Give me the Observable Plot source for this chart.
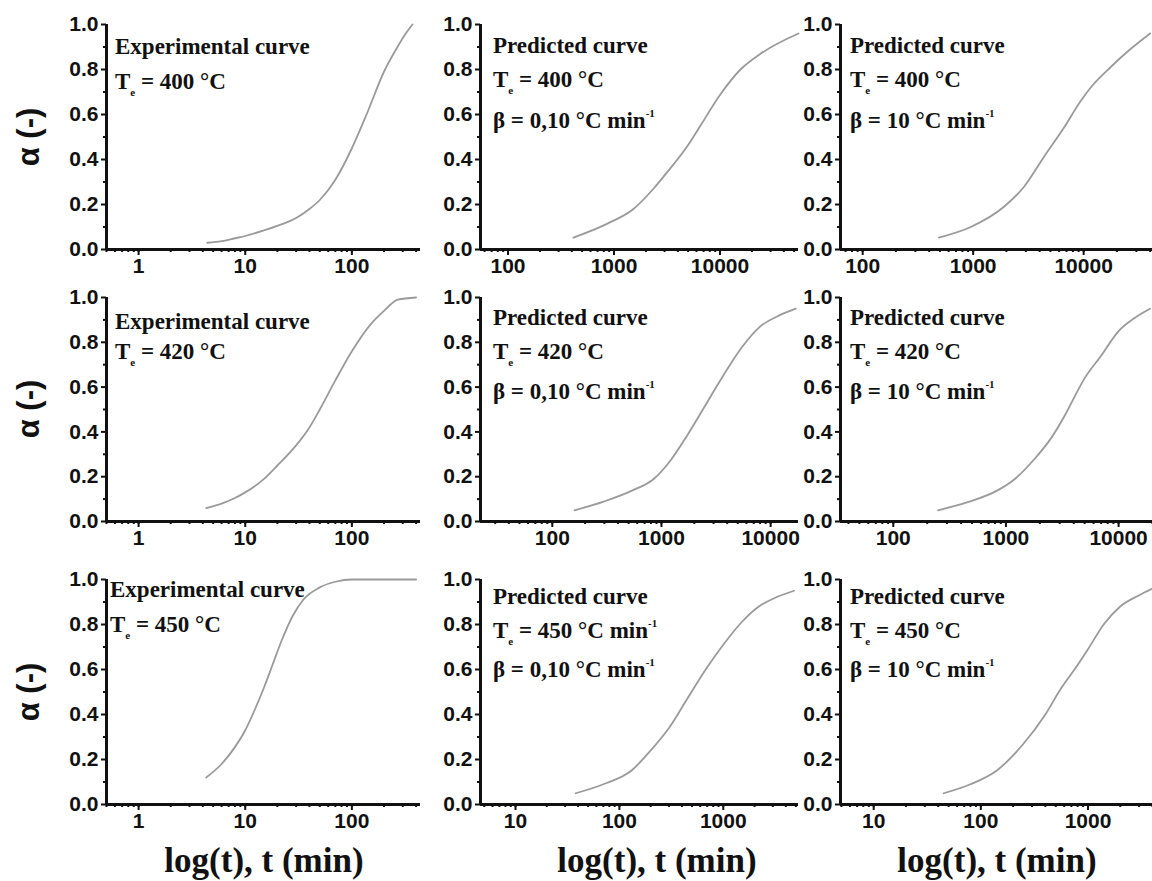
<!DOCTYPE html>
<html>
<head>
<meta charset="utf-8">
<script src="https://cdn.jsdelivr.net/npm/d3@7"></script>
<script src="https://cdn.jsdelivr.net/npm/@observablehq/plot@0.6"></script>
<style>
  body { margin: 0; background: #fff; }
  #chart { position: relative; width: 1152px; height: 881px; overflow: hidden; background: #fff; }
  .panel { position: absolute; }
  .panel svg { overflow: visible; }
  .ann { position: absolute; font-family: "Liberation Serif", "Times New Roman", serif; font-weight: bold;
         font-size: 23px; line-height: 1; color: #111; white-space: nowrap; }
  .ann sub { font-size: 11px; vertical-align: -7px; line-height: 0; }
  .ann sup { font-size: 11px; vertical-align: 11px; line-height: 0; }
  .xt { position: absolute; font-family: "Liberation Serif", "Times New Roman", serif; font-weight: bold;
        font-size: 35px; line-height: 1; color: #111; white-space: nowrap; transform: translateX(-50%); }
  .yt { position: absolute; font-family: "Liberation Sans", Arial, sans-serif; font-weight: bold;
        font-size: 31px; line-height: 1; color: #111; white-space: nowrap;
        transform: translate(-50%, -50%) rotate(-90deg); }
</style>
</head>
<body>
<div id="chart"></div>
<script>
// ---------- data ----------
const yTicks = [0, 0.2, 0.4, 0.6, 0.8, 1.0];

// row 1 : T = 400 °C
const exp400_t = [4.4, 6, 8, 10, 15, 20, 30, 40, 50, 70, 100, 140, 200, 260, 320, 370];
const exp400_a = [0.03, 0.037, 0.05, 0.06, 0.085, 0.105, 0.14, 0.18, 0.22, 0.31, 0.45, 0.61, 0.79, 0.89, 0.96, 1.0];
const pre400s_t = [414, 867, 1525, 2355, 3190, 4930, 6530, 10100, 15600, 24100, 55000];
const pre400s_a = [0.053, 0.115, 0.18, 0.27, 0.345, 0.46, 0.55, 0.69, 0.80, 0.87, 0.96];
const pre400f_t = [490, 950, 1900, 2900, 4350, 6600, 9400, 11600, 17500, 25000, 40000];
const pre400f_a = [0.053, 0.10, 0.19, 0.28, 0.41, 0.54, 0.66, 0.72, 0.81, 0.88, 0.96];

// row 2 : T = 420 °C
const exp420_t = [4.3, 6, 8, 10, 15, 20, 30, 40, 50, 70, 100, 150, 200, 270, 400];
const exp420_a = [0.06, 0.08, 0.105, 0.13, 0.19, 0.25, 0.34, 0.42, 0.5, 0.63, 0.76, 0.88, 0.94, 0.99, 1.0];
const pre420s_t = [160, 300, 550, 850, 1200, 1600, 2200, 3000, 4000, 5500, 8000, 12000, 17000];
const pre420s_a = [0.05, 0.09, 0.14, 0.19, 0.27, 0.36, 0.47, 0.58, 0.68, 0.78, 0.87, 0.92, 0.95];
const pre420f_t = [250, 450, 850, 1200, 1800, 2500, 3300, 4000, 5000, 7000, 10000, 14000, 19000];
const pre420f_a = [0.05, 0.085, 0.14, 0.19, 0.28, 0.37, 0.47, 0.55, 0.64, 0.74, 0.85, 0.91, 0.95];

// row 3 : T = 450 °C
const exp450_t = [4.3, 6, 8, 10, 12, 15, 18, 22, 28, 35, 50, 70, 100, 400];
const exp450_a = [0.12, 0.18, 0.255, 0.33, 0.41, 0.52, 0.62, 0.73, 0.84, 0.91, 0.965, 0.99, 1.0, 1.0];
const pre450s_t = [38, 70, 130, 200, 300, 450, 700, 1000, 1500, 2200, 3200, 4800];
const pre450s_a = [0.05, 0.09, 0.15, 0.24, 0.34, 0.47, 0.61, 0.71, 0.81, 0.88, 0.92, 0.95];
const pre450f_t = [45, 80, 140, 250, 400, 550, 800, 1000, 1400, 2000, 3000, 4000];
const pre450f_a = [0.05, 0.09, 0.15, 0.27, 0.4, 0.51, 0.62, 0.69, 0.8, 0.88, 0.93, 0.96];

// x tick labels
const ticksA = [1, 10, 100];
const ticksB = [100, 1000, 10000];
const ticksC = [10, 100, 1000];

// annotation texts
const txtExp = "Experimental curve";
const txtPred = "Predicted curve";
const temps = ["400", "420", "450"];
const betaSlow = "0,10";
const betaFast = "10";

const yTitle = "α (-)";
const xTitle = "log(t), t (min)";

// ---------- layout ----------
const cols = [
  { svgLeft: 40,  frameLeft: 106, frameRight: 420,  mr: 5, annDx: 9,  titleCx: 264 },
  { svgLeft: 425, frameLeft: 480, frameRight: 798,  mr: 2, annDx: 13, titleCx: 657 },
  { svgLeft: 800, frameLeft: 840, frameRight: 1152, mr: 0, annDx: 10, titleCx: 997 }
];
const rows = [
  { svgTop: 0,   frameTop: 24,  frameBottom: 249, svgBottom: 275, exp: [23, 58], pred: [22, 56, 97] },
  { svgTop: 275, frameTop: 297, frameBottom: 521, svgBottom: 555, exp: [25, 55], pred: [21, 55, 95] },
  { svgTop: 555, frameTop: 579, frameBottom: 804, svgBottom: 835, exp: [11, 46], pred: [18, 52, 91] }
];

const panels = [
  { r: 0, c: 0, t: exp400_t,  a: exp400_a,  domain: [0.5, 440],   ticks: ticksA, kind: "exp",  temp: temps[0] },
  { r: 0, c: 1, t: pre400s_t, a: pre400s_a, domain: [55, 55000],  ticks: ticksB, kind: "pred", temp: temps[0], beta: betaSlow },
  { r: 0, c: 2, t: pre400f_t, a: pre400f_a, domain: [63, 42000],  ticks: ticksB, kind: "pred", temp: temps[0], beta: betaFast },
  { r: 1, c: 0, t: exp420_t,  a: exp420_a,  domain: [0.5, 440],   ticks: ticksA, kind: "exp",  temp: temps[1] },
  { r: 1, c: 1, t: pre420s_t, a: pre420s_a, domain: [22, 18000],  ticks: ticksB, kind: "pred", temp: temps[1], beta: betaSlow },
  { r: 1, c: 2, t: pre420f_t, a: pre420f_a, domain: [34, 20000],  ticks: ticksB, kind: "pred", temp: temps[1], beta: betaFast },
  { r: 2, c: 0, t: exp450_t,  a: exp450_a,  domain: [0.5, 440],   ticks: ticksA, kind: "exp",  temp: temps[2] },
  { r: 2, c: 1, t: pre450s_t, a: pre450s_a, domain: [4.6, 5300],  ticks: ticksC, kind: "pred", temp: temps[2], beta: betaSlow, typo: true },
  { r: 2, c: 2, t: pre450f_t, a: pre450f_a, domain: [4.9, 4000],  ticks: ticksC, kind: "pred", temp: temps[2], beta: betaFast }
];

const chart = document.getElementById("chart");

function minorTicks([x0, x1]) {
  const out = [];
  for (let e = -2; e <= 6; e++) for (let k = 1; k <= 9; k++) {
    const v = k * Math.pow(10, e);
    if (v >= x0 && v <= x1) out.push(v);
  }
  return out;
}

for (const p of panels) {
  const col = cols[p.c], row = rows[p.r];
  const width = col.frameRight - col.svgLeft + col.mr;
  const height = row.svgBottom - row.svgTop;
  const data = p.t.map((t, i) => ({ t, a: p.a[i] }));
  const [x0] = p.domain;
  const plot = Plot.plot({
    width, height,
    marginLeft: col.frameLeft - col.svgLeft,
    marginRight: col.mr,
    marginTop: row.frameTop - row.svgTop,
    marginBottom: row.svgBottom - row.frameBottom,
    x: { type: "log", domain: p.domain },
    y: { domain: [0, 1] },
    style: { fontFamily: "'Liberation Sans', Arial, sans-serif", fontWeight: "bold", fontSize: "21px",
             color: "#111", background: "transparent", overflow: "visible" },
    marks: [
      Plot.axisY({ ticks: yTicks, tickFormat: d3.format(".1f"), tickSize: 5, tickPadding: 3, label: null, strokeWidth: 2 }),
      Plot.axisY({ ticks: d3.range(0.1, 1, 0.2), tickSize: 3, text: null, label: null, strokeWidth: 2 }),
      Plot.axisX({ ticks: p.ticks, tickFormat: d => String(d), tickSize: 6, tickPadding: 3, label: null, strokeWidth: 2 }),
      Plot.axisX({ ticks: minorTicks(p.domain), tickSize: 3, text: null, label: null, strokeWidth: 2 }),
      Plot.ruleX([x0], { stroke: "#111", strokeWidth: 3 }),
      Plot.ruleY([0], { stroke: "#111", strokeWidth: 3 }),
      Plot.line(data, { x: "t", y: "a", stroke: "#9a9a9a", strokeWidth: 1.8, curve: "monotone-x" })
    ]
  });
  const div = document.createElement("div");
  div.className = "panel";
  div.style.left = col.svgLeft + "px";
  div.style.top = row.svgTop + "px";
  div.appendChild(plot);
  chart.appendChild(div);

  const lines = [];
  if (p.kind === "exp") {
    lines.push(txtExp);
    lines.push(`T<sub>e</sub> = ${p.temp} °C`);
  } else {
    lines.push(txtPred);
    lines.push(p.typo ? `T<sub>e</sub> = ${p.temp} °C min<sup>-1</sup>` : `T<sub>e</sub> = ${p.temp} °C`);
    lines.push(`β = ${p.beta} °C min<sup>-1</sup>`);
  }
  const centers = p.kind === "exp" ? row.exp : row.pred;
  const dx = (p.kind === "exp" && p.r === 2) ? 4 : col.annDx;
  lines.forEach((html, i) => {
    const a = document.createElement("div");
    a.className = "ann";
    a.innerHTML = html;
    a.style.left = (col.frameLeft + dx) + "px";
    a.style.top = (row.frameTop + centers[i] - 12) + "px";
    chart.appendChild(a);
  });
}

for (const row of rows) {
  const y = document.createElement("div");
  y.className = "yt";
  y.textContent = yTitle;
  y.style.left = "28px";
  y.style.top = ((row.frameTop + row.frameBottom) / 2) + "px";
  chart.appendChild(y);
}
for (const col of cols) {
  const x = document.createElement("div");
  x.className = "xt";
  x.textContent = xTitle;
  x.style.left = col.titleCx + "px";
  x.style.top = "843px";
  chart.appendChild(x);
}
</script>
</body>
</html>
